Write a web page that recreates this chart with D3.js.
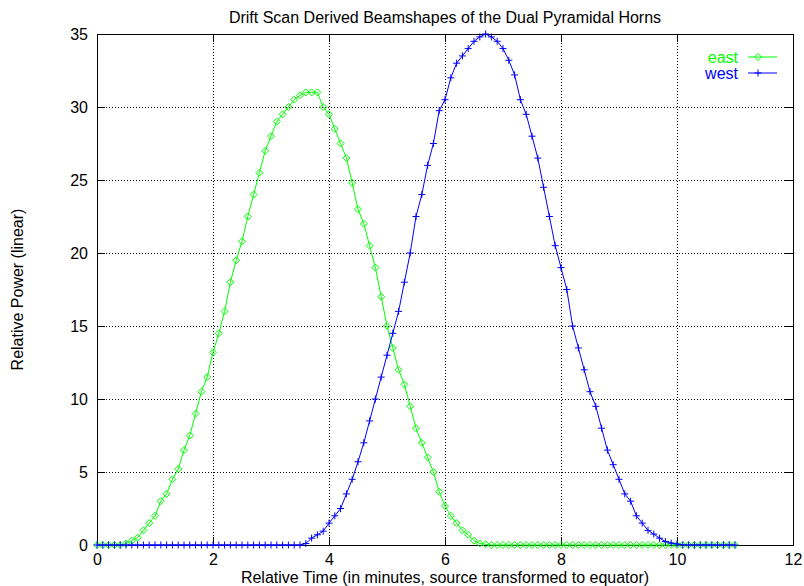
<!DOCTYPE html>
<html>
<head>
<meta charset="utf-8">
<script src="https://cdn.jsdelivr.net/npm/d3@7"></script>
<style>
  body { margin: 0; background: #fff; }
  svg { display: block; }
  text { font-family: "Liberation Sans", Arial, Helvetica, sans-serif; }
</style>
</head>
<body>
<svg id="chart" width="804" height="586"></svg>
<script>
// Sample times (minutes) shared by both horns
const times = [
  0.0, 0.1, 0.2, 0.3, 0.4, 0.5, 0.6, 0.7, 0.8, 0.9,
  1.0, 1.1, 1.2, 1.3, 1.4, 1.5, 1.6, 1.7, 1.8, 1.9,
  2.0, 2.1, 2.2, 2.3, 2.4, 2.5, 2.6, 2.7, 2.8, 2.9,
  3.0, 3.1, 3.2, 3.3, 3.4, 3.5, 3.6, 3.7, 3.8, 3.9,
  4.0, 4.1, 4.2, 4.3, 4.4, 4.5, 4.6, 4.7, 4.8, 4.9,
  5.0, 5.1, 5.2, 5.3, 5.4, 5.5, 5.6, 5.7, 5.8, 5.9,
  6.0, 6.1, 6.2, 6.3, 6.4, 6.5, 6.6, 6.7, 6.8, 6.9,
  7.0, 7.1, 7.2, 7.3, 7.4, 7.5, 7.6, 7.7, 7.8, 7.9,
  8.0, 8.1, 8.2, 8.3, 8.4, 8.5, 8.6, 8.7, 8.8, 8.9,
  9.0, 9.1, 9.2, 9.3, 9.4, 9.5, 9.6, 9.7, 9.8, 9.9,
  10.0, 10.1, 10.2, 10.3, 10.4, 10.5, 10.6, 10.7, 10.8, 10.9,
  11.0
];

// East horn relative power
const eastPower = [
  0, 0, 0, 0, 0, 0.1, 0.3, 0.5, 1.0, 1.5,
  2.0, 3.0, 3.5, 4.5, 5.2, 6.5, 7.5, 9.0, 10.5, 11.5,
  13.2, 14.5, 16.0, 18.0, 19.5, 20.8, 22.5, 24.0, 25.5, 27.0,
  28.0, 29.0, 29.5, 30.0, 30.5, 30.8, 31.0, 31.0, 31.0, 30.0,
  29.5, 28.5, 27.5, 26.5, 24.8, 23.0, 22.0, 20.5, 19.0, 17.0,
  15.0, 13.5, 12.0, 11.0, 9.5, 8.0, 7.0, 6.0, 5.0, 3.65,
  2.67, 2.0, 1.5, 1.0, 0.7, 0.3, 0.1, 0.05, 0, 0,
  0, 0, 0, 0, 0, 0, 0, 0, 0, 0,
  0, 0, 0, 0, 0, 0, 0, 0, 0, 0,
  0, 0, 0, 0, 0, 0, 0, 0, 0, 0,
  0, 0, 0, 0, 0, 0, 0, 0, 0, 0,
  0
];

// West horn relative power
const westPower = [
  0, 0, 0, 0, 0, 0, 0, 0, 0, 0,
  0, 0, 0, 0, 0, 0, 0, 0, 0, 0,
  0, 0, 0, 0, 0, 0, 0, 0, 0, 0,
  0, 0, 0, 0, 0, 0, 0.1, 0.47, 0.7, 0.95,
  1.5, 2.0, 2.5, 3.5, 4.5, 5.7, 7.0, 8.5, 10.0, 11.5,
  13.0, 14.5, 16.0, 18.0, 20.0, 22.5, 24.0, 26.0, 27.5, 29.75,
  30.5, 32.0, 33.0, 33.5, 34.0, 34.5, 34.8, 35.0, 34.8, 34.5,
  34.0, 33.2, 32.2, 30.5, 29.5, 28.0, 26.5, 24.5, 22.5, 20.5,
  19.0, 17.5, 15.0, 13.5, 12.0, 10.5, 9.5, 8.0, 6.5, 5.5,
  4.5, 3.5, 3.0, 2.0, 1.5, 1.0, 0.75, 0.47, 0.24, 0.13,
  0.07, 0, 0, 0, 0, 0, 0, 0, 0, 0,
  0
];

const xTicks = [0, 2, 4, 6, 8, 10, 12];
const yTicks = [0, 5, 10, 15, 20, 25, 30, 35];

const seriesNames = ["east", "west"];
const seriesColors = ["#00ff00", "#0000ff"];

const svg = d3.select("#chart");
const plotLeft = 97, plotRight = 793, plotTop = 34, plotBottom = 545;
const W = plotRight - plotLeft, H = plotBottom - plotTop;
const fontSize = 16;

const x = d3.scaleLinear().domain([0, 12]).range([plotLeft, plotRight]);
const y = d3.scaleLinear().domain([0, 35]).range([plotBottom, plotTop]);

// Dotted grid
const grid = svg.append("g").attr("class", "grid");
grid.append("g")
  .attr("transform", `translate(0,${plotBottom})`)
  .call(d3.axisBottom(x).tickValues(xTicks).tickSize(-H).tickFormat(""))
  .call(g => g.select(".domain").remove());
grid.append("g")
  .attr("transform", `translate(${plotLeft},0)`)
  .call(d3.axisLeft(y).tickValues(yTicks).tickSize(-W).tickFormat(""))
  .call(g => g.select(".domain").remove());
grid.selectAll("line")
  .attr("stroke", "#000")
  .attr("stroke-width", 1)
  .attr("stroke-dasharray", "1,2")
  .attr("shape-rendering", "crispEdges");

// Axes with inward ticks, mirrored on the opposite sides
const tickLen = 8;
const axisStyle = g => {
  g.select(".domain").remove();
  g.selectAll(".tick line").attr("stroke", "#000").attr("shape-rendering", "crispEdges");
  g.selectAll("text").attr("font-size", fontSize).attr("fill", "#000")
    .attr("font-family", '"Liberation Sans", Arial, Helvetica, sans-serif');
};
svg.append("g")
  .attr("transform", `translate(0,${plotBottom})`)
  .call(d3.axisBottom(x).tickValues(xTicks).tickSizeInner(-tickLen).tickSizeOuter(0).tickPadding(9))
  .call(axisStyle);
svg.append("g")
  .attr("transform", `translate(0,${plotTop})`)
  .call(d3.axisTop(x).tickValues(xTicks).tickSizeInner(-tickLen).tickSizeOuter(0).tickFormat(""))
  .call(axisStyle);
svg.append("g")
  .attr("transform", `translate(${plotLeft},0)`)
  .call(d3.axisLeft(y).tickValues(yTicks).tickSizeInner(-tickLen).tickSizeOuter(0).tickPadding(9))
  .call(axisStyle);
svg.append("g")
  .attr("transform", `translate(${plotRight},0)`)
  .call(d3.axisRight(y).tickValues(yTicks).tickSizeInner(-tickLen).tickSizeOuter(0).tickFormat(""))
  .call(axisStyle);

// Plot border
svg.append("rect")
  .attr("x", plotLeft).attr("y", plotTop).attr("width", W).attr("height", H)
  .attr("fill", "none").attr("stroke", "#000").attr("stroke-width", 1)
  .attr("shape-rendering", "crispEdges");

// Series
const series = [
  { name: seriesNames[0], color: seriesColors[0], values: eastPower, marker: "diamond" },
  { name: seriesNames[1], color: seriesColors[1], values: westPower, marker: "plus" }
];

const markerPath = (type, cx, cy) => {
  const r = 3.5;
  if (type === "diamond") {
    return `M${cx},${cy - r}L${cx + r},${cy}L${cx},${cy + r}L${cx - r},${cy}Z`;
  }
  return `M${cx - r},${cy}H${cx + r}M${cx},${cy - r}V${cy + r}`;
};

const line = d3.line()
  .x(d => x(d[0]))
  .y(d => y(d[1]));

series.forEach(s => {
  const pts = times.map((t, i) => [t, s.values[i]]);
  const g = svg.append("g");
  g.append("path")
    .datum(pts)
    .attr("d", line)
    .attr("fill", "none")
    .attr("stroke", s.color)
    .attr("stroke-width", 1);
  g.selectAll("path.mk")
    .data(pts)
    .join("path")
    .attr("class", "mk")
    .attr("d", d => markerPath(s.marker, x(d[0]), y(d[1])))
    .attr("fill", "none")
    .attr("stroke", s.color)
    .attr("stroke-width", 1);
});

// Legend
const legend = svg.append("g");
series.forEach((s, i) => {
  const ly = 57 + i * 16;
  legend.append("text")
    .attr("x", 738).attr("y", ly)
    .attr("dy", "0.35em")
    .attr("text-anchor", "end")
    .attr("font-size", fontSize)
    .attr("fill", s.color)
    .text(s.name);
  legend.append("line")
    .attr("x1", 748).attr("x2", 777)
    .attr("y1", ly).attr("y2", ly)
    .attr("stroke", s.color).attr("stroke-width", 1);
  legend.append("path")
    .attr("d", markerPath(s.marker, 758, ly))
    .attr("fill", "none")
    .attr("stroke", s.color)
    .attr("stroke-width", 1);
});

// Titles
svg.append("text")
  .attr("x", (plotLeft + plotRight) / 2).attr("y", 17)
  .attr("dy", "0.35em")
  .attr("text-anchor", "middle")
  .attr("font-size", fontSize)
  .text("Drift Scan Derived Beamshapes of the Dual Pyramidal Horns");

svg.append("text")
  .attr("x", (plotLeft + plotRight) / 2).attr("y", 577)
  .attr("dy", "0.35em")
  .attr("text-anchor", "middle")
  .attr("font-size", fontSize)
  .text("Relative Time (in minutes, source transformed to equator)");

svg.append("text")
  .attr("transform", `translate(17,${(plotTop + plotBottom) / 2}) rotate(-90)`)
  .attr("dy", "0.35em")
  .attr("text-anchor", "middle")
  .attr("font-size", fontSize)
  .text("Relative Power (linear)");
</script>
</body>
</html>
